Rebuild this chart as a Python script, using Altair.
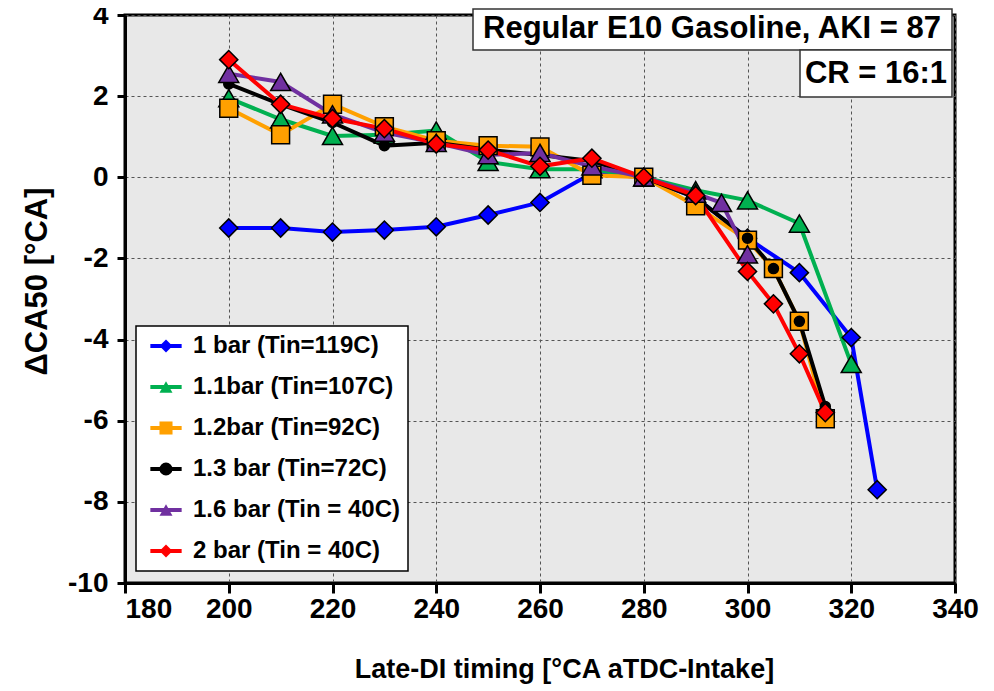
import altair as alt
import pandas as pd

FONT = "Liberation Sans"

series = ["1 bar (Tin=119C)", "1.1bar (Tin=107C)", "1.2bar (Tin=92C)",
          "1.3 bar (Tin=72C)", "1.6 bar (Tin = 40C)", "2 bar (Tin = 40C)"]
colors = ["#0000FF", "#00B050", "#FFA000", "#000000", "#7030A0", "#FF0000"]
shapes = ["diamond", "triangle-up", "square", "circle", "triangle-up", "diamond"]
marker_sizes = [330, 400, 320, 100, 400, 330]

x_1bar = [200, 210, 220, 230, 240, 250, 260, 270, 280, 290, 300, 310, 320, 325]
y_1bar = [-1.25, -1.25, -1.35, -1.3, -1.22, -0.93, -0.62, 0.1, 0.0, -0.5, -1.5, -2.35, -3.95, -7.7]

x_11bar = [200, 210, 220, 230, 240, 250, 260, 270, 280, 290, 300, 310, 320]
y_11bar = [1.95, 1.43, 1.02, 1.05, 1.15, 0.38, 0.2, 0.2, 0.0, -0.32, -0.57, -1.14, -4.6]

x_12bar = [200, 210, 220, 230, 240, 250, 260, 270, 280, 290, 300, 305, 310, 315]
y_12bar = [1.7, 1.05, 1.8, 1.25, 0.9, 0.78, 0.75, 0.05, 0.0, -0.7, -1.55, -2.25, -3.55, -5.95]

x_13bar = [200, 210, 220, 230, 240, 250, 260, 270, 280, 290, 300, 305, 310, 315]
y_13bar = [2.3, 1.8, 1.35, 0.78, 0.85, 0.68, 0.55, 0.4, 0.0, -0.5, -1.5, -2.25, -3.55, -5.65]

x_16bar = [200, 210, 220, 230, 240, 250, 260, 270, 280, 290, 295, 300]
y_16bar = [2.55, 2.35, 1.55, 1.1, 0.85, 0.55, 0.6, 0.27, 0.0, -0.4, -0.63, -1.9]

x_2bar = [200, 210, 220, 230, 240, 250, 260, 270, 280, 290, 300, 305, 310, 315]
y_2bar = [2.9, 1.8, 1.45, 1.2, 0.82, 0.67, 0.27, 0.47, 0.0, -0.45, -2.32, -3.12, -4.35, -5.8]

x_ticks = [180, 200, 220, 240, 260, 280, 300, 320, 340]
y_ticks = [-10, -8, -6, -4, -2, 0, 2, 4]

annot_fuel = "Regular E10 Gasoline, AKI = 87"
annot_cr = "CR = 16:1"
x_title = "Late-DI timing [°CA aTDC-Intake]"
y_title = "ΔCA50 [°CA]"

# point-legend keys differ (trailing space) so Vega-Lite keeps two separate legends
pt_keys = [s + " " for s in series]

xs = [x_1bar, x_11bar, x_12bar, x_13bar, x_16bar, x_2bar]
ys = [y_1bar, y_11bar, y_12bar, y_13bar, y_16bar, y_2bar]
frames = []
for s, p, xv, yv in zip(series, pt_keys, xs, ys):
    frames.append(pd.DataFrame({"series": s, "s2": p, "x": xv, "y": yv}))
df = pd.concat(frames, ignore_index=True)

xenc = alt.X("x:Q", scale=alt.Scale(domain=[180, 340], nice=False),
             axis=alt.Axis(values=x_ticks, title=x_title, labelFlush=False,
                           labelAlign={"condition": {"test": "datum.value == 180", "value": "left"},
                                       "value": "center"},
                           tickSize=10, labelPadding=2, titlePadding=33, titleX=439,
                           titleFontSize=27))
yenc = alt.Y("y:Q", scale=alt.Scale(domain=[-10, 4], nice=False),
             axis=alt.Axis(values=y_ticks, title=y_title, labelExpr="datum.value + ''",
                           tickSize=8, labelPadding=9, titlePadding=14, titleY=266,
                           titleFontSize=31))

common_leg = dict(title=None, orient="none", legendX=11, legendY=311, padding=8,
                  rowPadding=17, symbolSize=170, labelFont=FONT, labelFontSize=24,
                  labelFontWeight="bold", symbolOffset=10, labelOffset=15, labelLimit=500)

line_leg = alt.Legend(fillColor="white", strokeColor="black", symbolType="M-2.4,0H2.4",
                      symbolStrokeWidth=4, labelColor="black", **common_leg)
pt_leg = alt.Legend(symbolStrokeColor="black", symbolStrokeWidth=1.5, symbolOpacity=1,
                    labelOpacity=0, labelColor="black", **common_leg)

lines = alt.Chart(df).mark_line(strokeWidth=4).encode(
    x=xenc, y=yenc,
    color=alt.Color("series:N", scale=alt.Scale(domain=series, range=colors), legend=line_leg),
)

point_layers = []
for s, p, sz in zip(series, pt_keys, marker_sizes):
    point_layers.append(
        alt.Chart(df[df["series"] == s]).mark_point(
            filled=True, opacity=1, stroke="black", strokeWidth=1.5, size=sz).encode(
            x=xenc, y=yenc,
            fill=alt.Fill("s2:N", scale=alt.Scale(domain=pt_keys, range=colors), legend=pt_leg),
            shape=alt.Shape("s2:N", scale=alt.Scale(domain=pt_keys, range=shapes), legend=pt_leg),
        )
    )


def box(x1, x2, y1, y2):
    return alt.Chart(pd.DataFrame({"a": [0]})).mark_rect(
        fill="white", stroke="#333333", strokeWidth=1.5).encode(
        x=alt.value(x1), x2=alt.value(x2), y=alt.value(y1), y2=alt.value(y2))


def label(text, xp, yp):
    return alt.Chart(pd.DataFrame({"t": [text]})).mark_text(
        font=FONT, fontSize=31, fontWeight="bold", color="black",
        align="center", baseline="middle").encode(
        text="t:N", x=alt.value(xp), y=alt.value(yp))


chart = alt.layer(
    lines, *point_layers,
    box(348, 827, -6, 35), box(675, 827, 35, 82),
    label(annot_fuel, 587, 14), label(annot_cr, 751, 59),
).properties(
    width=830, height=568,
    autosize=alt.AutoSizeParams(type="none"),
    padding={"left": 117, "top": 7, "right": 31, "bottom": 105},
).configure_view(
    fill="#E8E8E8", stroke="black", strokeWidth=3,
).configure_axis(
    domainColor="black", domainWidth=3, tickColor="black", tickWidth=3,
    labelFont=FONT, labelFontSize=28, labelFontWeight="bold", labelColor="black",
    titleFont=FONT, titleFontWeight="bold", titleColor="black",
    gridColor="#555555", gridDash=[3, 3], gridWidth=1,
).configure_legend(
    strokeWidth=1.5,
)

chart.save("out.html", embed_options={"renderer": "svg", "actions": False})
